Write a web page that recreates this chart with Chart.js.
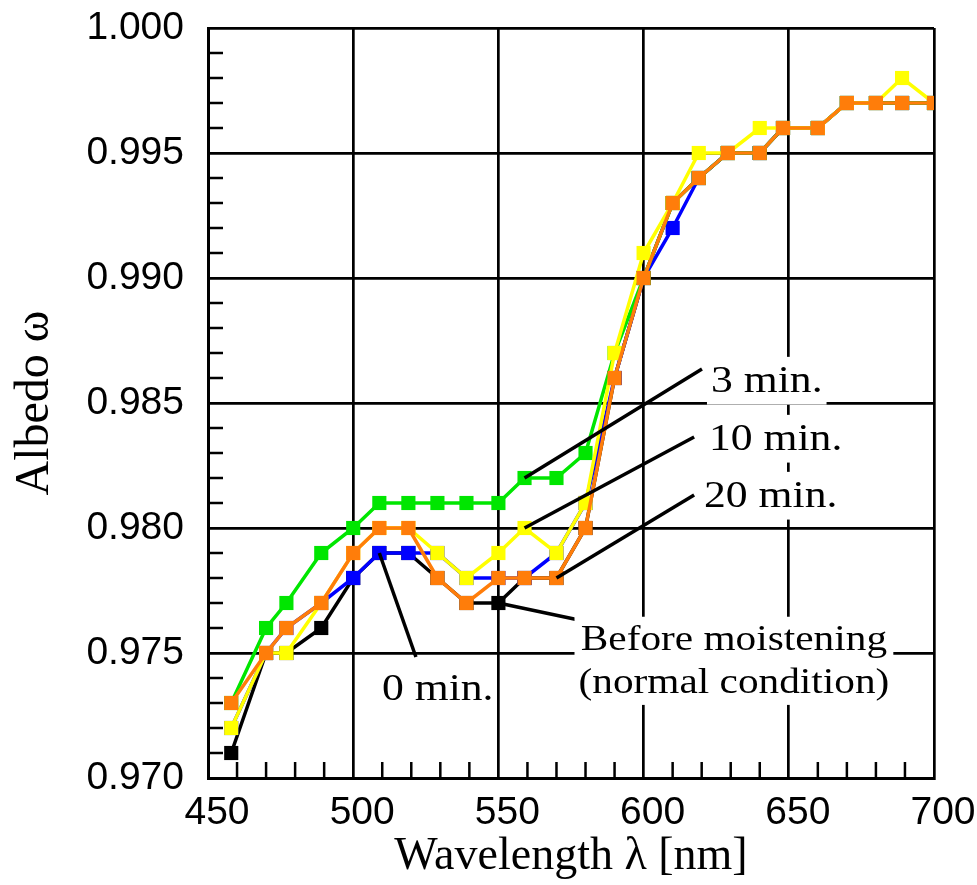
<!DOCTYPE html>
<html>
<head>
<meta charset="utf-8">
<script src="https://cdn.jsdelivr.net/npm/chart.js@4/dist/chart.umd.min.js"></script>
<style>
  body { margin: 0; background: #fff; }
</style>
</head>
<body>
<canvas id="albedoChart" width="977" height="885"></canvas>
<script>
// wavelengths of the measured points [nm]
const wavelengths = [458, 470, 477, 489, 500, 509, 519, 529, 539, 550, 559, 570, 580, 590, 600, 610, 619, 629, 640, 648, 660, 670, 680, 689, 700];

// albedo per condition
const beforeMoist = [0.971, 0.975, 0.975, 0.976, 0.978, 0.979, 0.979, 0.978, 0.977, 0.977, 0.978, 0.978, 0.980, 0.986, 0.990, 0.993, 0.994, 0.995, 0.995, 0.996, 0.996, 0.997, 0.997, 0.997, 0.997];
const min0  = [0.972, 0.975, 0.976, 0.977, 0.978, 0.979, 0.979, 0.979, 0.978, 0.978, 0.978, 0.979, 0.981, 0.986, 0.990, 0.992, 0.994, 0.995, 0.995, 0.996, 0.996, 0.997, 0.997, 0.997, 0.997];
const min3  = [0.973, 0.976, 0.977, 0.979, 0.980, 0.981, 0.981, 0.981, 0.981, 0.981, 0.982, 0.982, 0.983, 0.987, 0.990, 0.993, 0.994, 0.995, 0.995, 0.996, 0.996, 0.997, 0.997, 0.997, 0.997];
const min10 = [0.972, 0.975, 0.975, 0.977, 0.979, 0.980, 0.980, 0.979, 0.978, 0.979, 0.980, 0.979, 0.981, 0.987, 0.991, 0.993, 0.995, 0.995, 0.996, 0.996, 0.996, 0.997, 0.997, 0.998, 0.997];
const min20 = [0.973, 0.975, 0.976, 0.977, 0.979, 0.980, 0.980, 0.978, 0.977, 0.978, 0.978, 0.978, 0.980, 0.986, 0.990, 0.993, 0.994, 0.995, 0.995, 0.996, 0.996, 0.997, 0.997, 0.997, 0.997];

const xTicks = [450, 500, 550, 600, 650, 700];
const yTicks = [0.970, 0.975, 0.980, 0.985, 0.990, 0.995, 1.000];

function pts(vals) {
  return vals.map((v, i) => ({ x: wavelengths[i], y: v }));
}

function series(label, vals, color) {
  return {
    label: label,
    data: pts(vals),
    borderColor: color,
    backgroundColor: color,
    borderWidth: 3.5,
    pointStyle: 'rect',
    pointRadius: 10,
    pointBorderWidth: 0,
    tension: 0
  };
}

// callout labels: text position in data units, leader from a data point
const callouts = [
  { lines: ['3 min.'], x: 623.2, y: 0.98544, from: [min3, 10], to: [620.1, 0.98636], size: 37, align: 'left', box: true },
  { lines: ['10 min.'], x: 622.5, y: 0.98312, from: [min10, 10], to: [617.4, 0.98364], size: 37, align: 'left', box: true },
  { lines: ['20 min.'], x: 620.8, y: 0.98084, from: [min20, 11], to: [617.4, 0.98132], size: 37, align: 'left', box: true },
  { lines: ['Before moistening', '(normal condition)'], x: 631.1, y: 0.97512, from: [beforeMoist, 9], to: [623.3, 0.9752], size: 35, align: 'center', gap: 43, box: true },
  { lines: ['0 min.'], x: 509.9, y: 0.97312, from: [min0, 5], to: [521.6, 0.97484], size: 37, align: 'left', box: false }
];

const minorTicks = {
  id: 'minorTicks',
  beforeDatasetsDraw(chart) {
    const { ctx, chartArea, scales } = chart;
    ctx.save();
    ctx.strokeStyle = '#000';
    ctx.lineWidth = 2.5;
    ctx.beginPath();
    for (let w = 460; w < 700; w += 10) {
      if (w % 50 === 0) continue;
      const px = scales.x.getPixelForValue(w);
      ctx.moveTo(px, chartArea.bottom);
      ctx.lineTo(px, chartArea.bottom - 16);
    }
    for (let k = 971; k < 1000; k++) {
      if (k % 5 === 0) continue;
      const py = scales.y.getPixelForValue(k / 1000);
      ctx.moveTo(chartArea.left, py);
      ctx.lineTo(chartArea.left + 15, py);
    }
    ctx.stroke();
    ctx.restore();
  }
};

const calloutPlugin = {
  id: 'callouts',
  afterDatasetsDraw(chart) {
    const { ctx, scales } = chart;
    const stretch = 1.18;
    ctx.save();
    callouts.forEach(c => {
      const arr = c.from[0], idx = c.from[1];
      ctx.strokeStyle = '#000';
      ctx.lineWidth = 3.5;
      ctx.beginPath();
      ctx.moveTo(scales.x.getPixelForValue(wavelengths[idx]), scales.y.getPixelForValue(arr[idx]));
      ctx.lineTo(scales.x.getPixelForValue(c.to[0]), scales.y.getPixelForValue(c.to[1]));
      ctx.stroke();

      ctx.font = c.size + 'px "Liberation Serif", "Times New Roman", serif';
      const px = scales.x.getPixelForValue(c.x);
      const py = scales.y.getPixelForValue(c.y);
      const gap = c.gap || 0;
      if (c.box) {
        let w = 0;
        c.lines.forEach(t => { w = Math.max(w, ctx.measureText(t).width * stretch); });
        const left = c.align === 'center' ? px - w / 2 : px;
        const top = py - c.size * 0.95;
        const bottom = py + gap * (c.lines.length - 1) + c.size * 0.34;
        ctx.fillStyle = '#fff';
        ctx.fillRect(left - 4, top, w + 8, bottom - top);
      }

      ctx.fillStyle = '#000';
      ctx.textBaseline = 'alphabetic';
      ctx.textAlign = c.align;
      c.lines.forEach((t, i) => {
        ctx.save();
        ctx.translate(px, py + i * gap);
        ctx.scale(stretch, 1);
        ctx.fillText(t, 0, 0);
        ctx.restore();
      });
    });
    ctx.restore();
  }
};

const tickFont = { family: '"Liberation Sans", Arial, sans-serif', size: 39 };
const titleFont = { family: '"Liberation Serif", "Times New Roman", serif', size: 46 };

new Chart(document.getElementById('albedoChart'), {
  type: 'line',
  data: {
    datasets: [
      series('20 min.', min20, '#ff7d0a'),
      series('10 min.', min10, '#ffff00'),
      series('3 min.', min3, '#00e600'),
      series('0 min.', min0, '#0000ff'),
      series('Before moistening', beforeMoist, '#000000')
    ]
  },
  options: {
    responsive: false,
    animation: false,
    devicePixelRatio: 1,
    layout: { padding: { top: 28, right: 43, left: 0, bottom: 0 } },
    plugins: { legend: { display: false }, tooltip: { enabled: false } },
    scales: {
      x: {
        type: 'linear',
        min: 450,
        max: 700,
        afterFit(s) { s.height = 107; s.paddingLeft = 0; s.paddingRight = 0; },
        afterBuildTicks(s) { s.ticks = xTicks.map(v => ({ value: v })); },
        ticks: { font: tickFont, color: '#000', padding: 12, labelOffset: 9, maxRotation: 0 },
        grid: { color: '#000', lineWidth: 2.7, drawTicks: false },
        border: { color: '#000', width: 3 },
        title: { display: true, text: 'Wavelength λ [nm]', font: titleFont, color: '#000', padding: 0 }
      },
      y: {
        min: 0.970,
        max: 1.000,
        afterFit(s) { s.width = 208; s.paddingTop = 0; s.paddingBottom = 0; },
        afterBuildTicks(s) { s.ticks = yTicks.map(v => ({ value: v })); },
        ticks: { font: tickFont, color: '#000', padding: 24, callback: v => v.toFixed(3) },
        grid: { color: '#000', lineWidth: 2.7, drawTicks: false },
        border: { color: '#000', width: 3 },
        title: { display: true, text: 'Albedo ω', font: { family: titleFont.family, size: 48 }, color: '#000', padding: 7 }
      }
    }
  },
  plugins: [minorTicks, calloutPlugin]
});
</script>
</body>
</html>
